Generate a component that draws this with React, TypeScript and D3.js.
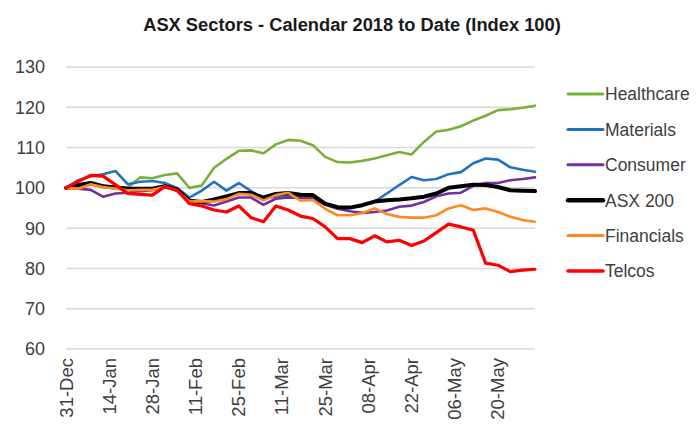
import React from "react";
import * as d3 from "d3";

const dates = [
  "2017-12-31","2018-01-04","2018-01-08","2018-01-12","2018-01-16","2018-01-20","2018-01-24","2018-01-28",
  "2018-02-01","2018-02-05","2018-02-09","2018-02-13","2018-02-17","2018-02-21","2018-02-25","2018-03-01",
  "2018-03-05","2018-03-09","2018-03-13","2018-03-17","2018-03-21","2018-03-25","2018-03-29","2018-04-02",
  "2018-04-06","2018-04-10","2018-04-14","2018-04-18","2018-04-22","2018-04-26","2018-04-30","2018-05-04",
  "2018-05-08","2018-05-12","2018-05-16","2018-05-20","2018-05-24","2018-05-28","2018-06-01",
];

const healthcare = [100,100.3,100.8,100.5,100.2,100.0,102.6,102.4,103.2,103.6,100.0,100.6,105.0,107.2,109.2,109.3,108.6,110.8,111.9,111.7,110.6,107.7,106.4,106.3,106.7,107.3,108.1,108.9,108.3,111.4,114.0,114.4,115.3,116.7,117.9,119.3,119.5,119.9,120.4];
const materials = [100,101.9,102.9,103.4,104.2,100.9,101.5,101.7,101.2,100.0,97.6,99.3,101.5,99.3,101.2,99.2,97.4,97.8,98.0,97.7,97.6,96.0,95.0,95.0,95.6,96.6,98.6,100.7,102.7,101.9,102.2,103.4,103.9,106.1,107.3,107.0,105.1,104.5,104.0];
const consumer = [100,99.8,99.5,97.8,98.6,98.8,99.2,99.4,100.3,99.2,96.5,96.2,95.6,96.6,97.6,97.6,95.8,97.3,97.6,97.5,97.4,95.8,94.8,94.2,93.8,94.0,94.4,95.3,95.6,96.5,97.9,98.6,98.8,100.5,101.2,101.2,101.9,102.2,102.6];
const asx200 = [100,100.7,101.2,100.4,100.1,99.8,99.8,99.8,100.4,99.6,96.8,96.5,97.1,97.9,98.7,98.7,97.6,98.5,98.7,98.3,98.2,96.1,95.2,95.1,95.7,96.6,96.9,97.1,97.4,97.8,98.6,100.0,100.4,100.8,100.7,100.2,99.4,99.3,99.2];
const financials = [100,99.8,100.9,100.2,99.8,99.4,99.5,99.5,100.3,99.3,96.6,96.7,96.6,97.2,98.5,98.3,96.9,98.2,98.8,96.8,97.0,94.8,93.2,93.2,93.7,94.9,93.5,92.8,92.6,92.6,93.2,94.9,95.7,94.5,94.9,94.0,92.8,92.0,91.6];
const telcos = [100,101.6,103.1,102.9,100.8,98.6,98.4,98.2,100.3,99.4,96.1,95.5,94.5,94.0,95.5,92.6,91.6,95.5,94.5,93.0,92.4,90.3,87.4,87.4,86.4,88.1,86.6,87.0,85.7,86.8,88.9,91.0,90.3,89.5,81.3,80.8,79.2,79.6,79.8];

const seriesNames = ["Healthcare", "Materials", "Consumer", "ASX 200", "Financials", "Telcos"];
const seriesValues = [healthcare, materials, consumer, asx200, financials, telcos];
const seriesColors = ["#79B03A", "#2372C0", "#7030A0", "#000000", "#FF8A22", "#FF0000"];
const seriesWidths = [2.6, 2.6, 2.6, 4, 2.6, 3.2];

const yTicks = [60, 70, 80, 90, 100, 110, 120, 130];
const title = "ASX Sectors - Calendar 2018 to Date (Index 100)";

export default function App() {
  const W = 696, H = 429;
  const parse = d3.timeParse("%Y-%m-%d");
  const xDates = dates.map((d) => parse(d) as Date);
  const x = d3.scaleTime().domain([xDates[0], xDates[xDates.length - 1]]).range([66, 535]);
  const y = d3.scaleLinear().domain([60, 130]).range([349, 67]);
  const xTicks = d3.timeDay.every(1)!.range(xDates[0], d3.timeDay.offset(xDates[xDates.length - 1], 1))
    .filter((d, i) => i % 14 === 0);
  const fmt = d3.timeFormat("%d-%b");
  const line = d3.line<number>().x((_, i) => x(xDates[i])).y((v) => y(v));
  const font = "'Liberation Sans', Arial, sans-serif";

  return (
    <svg width={W} height={H} style={{ position: "absolute", left: 0, top: 0, background: "#fff" }} fontFamily={font}>
      <rect width={W} height={H} fill="#fff" />
      <text x={352} y={31} textAnchor="middle" fontWeight="bold" fontSize={18.3} fill="#1a1a1a">{title}</text>
      {yTicks.map((t) => (
        <g key={t}>
          <line x1={66} x2={535} y1={y(t)} y2={y(t)} stroke="#D9D9D9" strokeWidth={1.5} />
          <text x={45} y={y(t)} dy="0.36em" textAnchor="end" fontSize={18} fill="#404040">{t}</text>
        </g>
      ))}
      {xTicks.map((d) => (
        <text key={d.getTime()} transform={`translate(${x(d) + 6.5},358) rotate(-90)`} textAnchor="end" fontSize={18.5} fill="#404040">{fmt(d)}</text>
      ))}
      {seriesValues.map((vals, k) => (
        <path key={seriesNames[k]} d={line(vals) || ""} fill="none" stroke={seriesColors[k]} strokeWidth={seriesWidths[k]} strokeLinejoin="round" strokeLinecap="round" />
      ))}
      {seriesNames.map((n, k) => {
        const ly = 94 + k * 35.4;
        return (
          <g key={n}>
            <line x1={568} x2={603} y1={ly} y2={ly} stroke={seriesColors[k]} strokeWidth={seriesWidths[k] + 0.4} strokeLinecap="round" />
            <text x={605} y={ly} dy="0.36em" fontSize={17.5} fill="#404040">{n}</text>
          </g>
        );
      })}
    </svg>
  );
}
